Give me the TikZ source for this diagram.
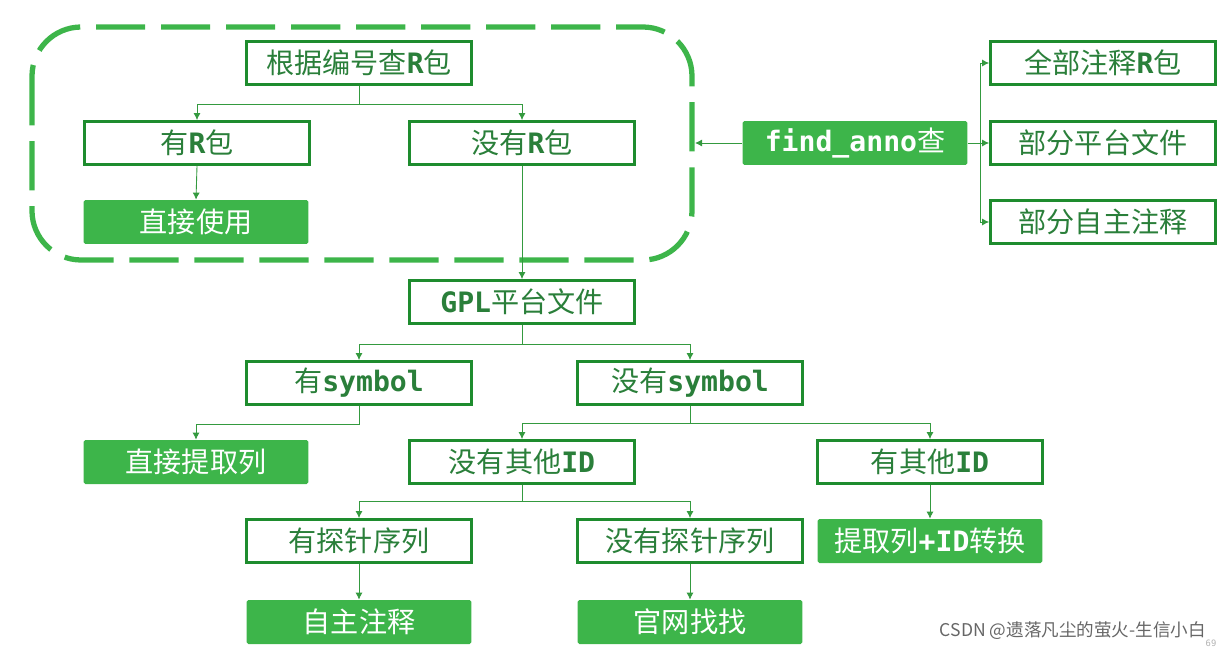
\documentclass[tikz,border=0pt]{standalone}
\usepackage{fontspec}
\setmainfont{DejaVu Sans Mono}
\newfontfamily\cjk{Noto Sans CJK SC}
\usetikzlibrary{positioning,calc,arrows.meta}
\definecolor{gline}{HTML}{1E8C2E}
\definecolor{gfill}{HTML}{3DB54A}
\definecolor{gtext}{HTML}{2A7F3A}
\newcommand{\zh}[1]{{\cjk\mdseries #1}}
\begin{document}
\begin{tikzpicture}[x=0.02cm,y=-0.02cm,
  box/.style={draw=gline,line width=1.6pt,fill=white,text=gtext,minimum width=4.5cm,minimum height=0.86cm,inner sep=0pt,font=\fontsize{16}{18}\selectfont\bfseries},
  sel/.style={fill=gfill,rounded corners=1pt,text=white,minimum width=4.5cm,minimum height=0.88cm,inner sep=0pt,font=\fontsize{16}{18}\selectfont\bfseries},
  link/.style={draw=gfill!85!black,line width=0.5pt,-{Latex[length=4pt,width=4pt]}}]

	\useasboundingbox (0,0) rectangle (1224,649);
	% dashed group
	\draw[gfill,line width=3pt,dash pattern=on 28pt off 9pt,rounded corners=28pt] (32,27) rectangle (692,260);

	\node[box] (gen) at (359,63) {\zh{根据编号查}R\zh{包}};
	\node[box] (hasR) at (197,143) {\zh{有}R\zh{包}};
	\node[box] (noR) at (522,143) {\zh{没有}R\zh{包}};
	\node[sel] (use) at (196,222) {\zh{直接使用}};
	\node[sel] (find) at (855,143) {find\_anno\zh{查}};
	\node[box] (all) at (1103,63) {\zh{全部注释}R\zh{包}};
	\node[box] (plat) at (1103,143) {\zh{部分平台文件}};
	\node[box] (self) at (1103,222) {\zh{部分自主注释}};
	\node[box] (gpl) at (522,302) {GPL\zh{平台文件}};
	\node[box] (sym) at (359,383) {\zh{有}symbol};
	\node[box] (nosym) at (690,383) {\zh{没有}symbol};
	\node[sel] (col) at (196,462) {\zh{直接提取列}};
	\node[box] (noid) at (522,462) {\zh{没有其他}ID};
	\node[box] (id) at (930,462) {\zh{有其他}ID};
	\node[box] (probe) at (359,541) {\zh{有探针序列}};
	\node[box] (noprobe) at (690,541) {\zh{没有探针序列}};
	\node[sel] (conv) at (930,541) {\zh{提取列}+ID\zh{转换}};
	\node[sel] (anno) at (359,622) {\zh{自主注释}};
	\node[sel] (web) at (690,622) {\zh{官网找找}};

	\coordinate (grp) at (695,143);
	\coordinate (fork) at (980,143);

	\draw[link] (gen.south) |- ++(0,19) -| (hasR.north);
	\draw[link] (gen.south) |- ++(0,19) -| (noR.north);
	\draw[link] (hasR.south) -- (use.north);
	\draw[link] (noR.south) -- (gpl.north);
	\draw[link] (find.west) -- (grp);
	\draw[link] (find.east) -- (fork) |- (all.west);
	\draw[link] (fork) -- (plat.west);
	\draw[link] (fork) |- (self.west);
	\draw[link] (gpl.south) |- ++(0,20) -| (sym.north);
	\draw[link] (gpl.south) |- ++(0,20) -| (nosym.north);
	\draw[link] (sym.south) |- ++(0,19) -| (col.north);
	\draw[link] (nosym.south) |- ++(0,18) -| (noid.north);
	\draw[link] (nosym.south) |- ++(0,18) -| (id.north);
	\draw[link] (noid.south) |- ++(0,17) -| (probe.north);
	\draw[link] (noid.south) |- ++(0,17) -| (noprobe.north);
	\draw[link] (id.south) -- (conv.north);
	\draw[link] (probe.south) -- (anno.north);
	\draw[link] (noprobe.south) -- (web.north);

	\node[text=gray!80!black,font=\fontsize{10}{12}\selectfont\cjk,anchor=east] (mark) at (1212,631) {CSDN @遗落凡尘的萤火-生信小白};
	\node[text=gray!60,font=\fontsize{5}{6}\selectfont] (page) at (1211,643) {69};
\end{tikzpicture}
\end{document}
